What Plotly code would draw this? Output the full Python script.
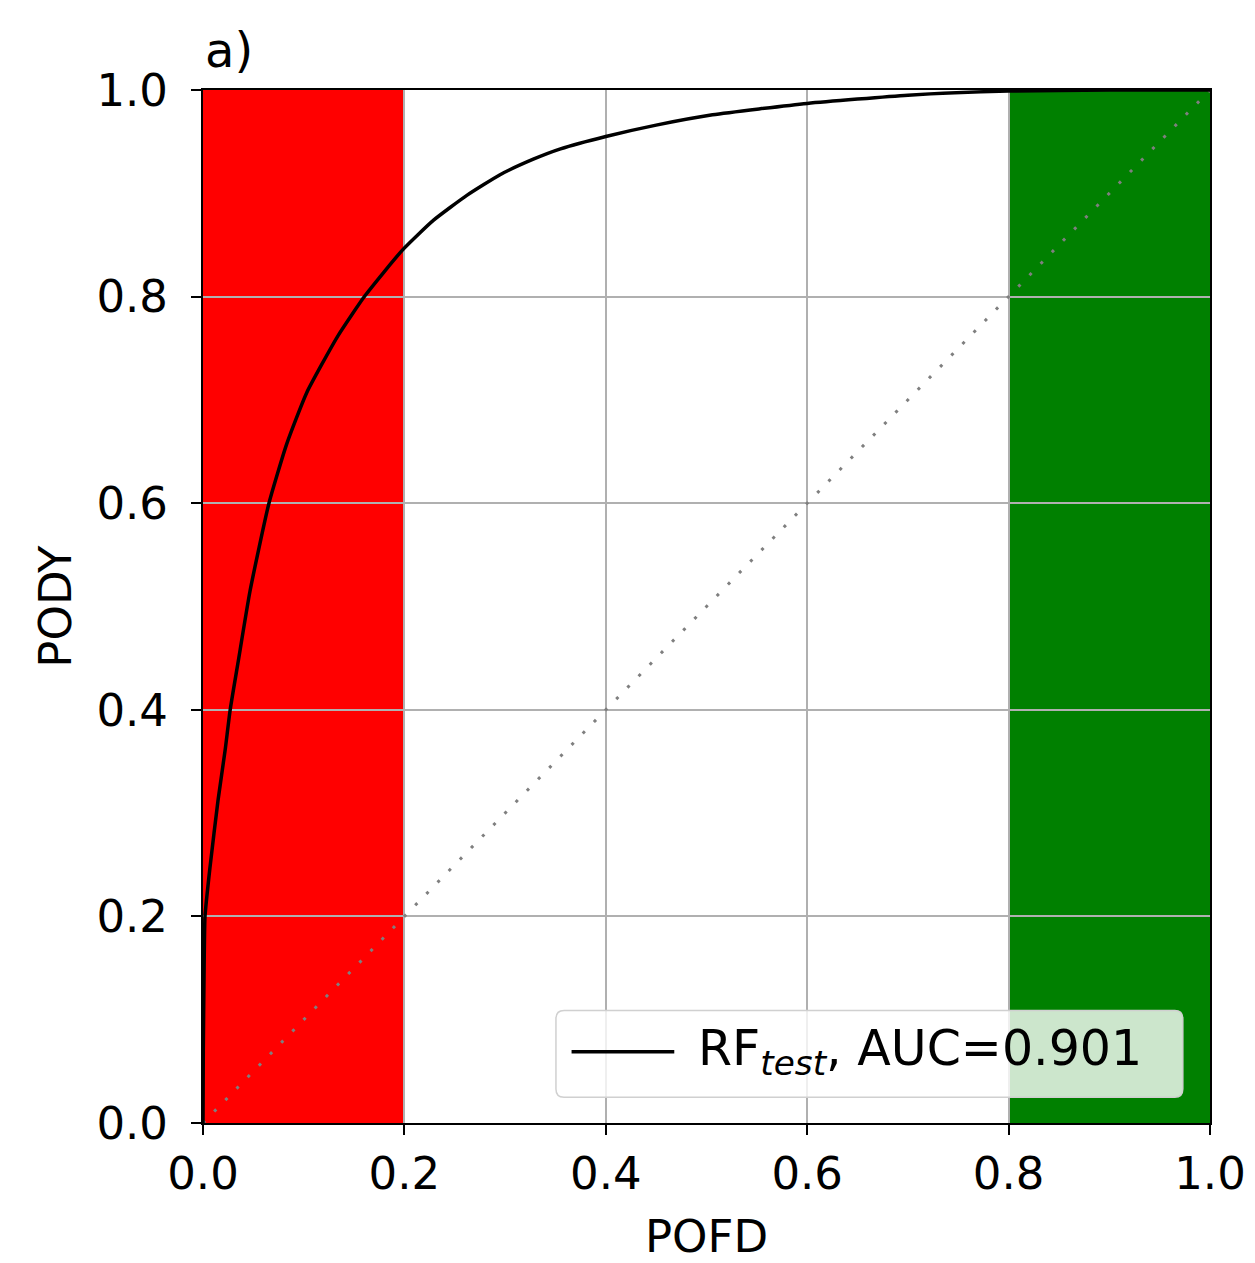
import plotly.graph_objects as go

# ROC curve values (POFD, PODY)
pofd = [0.0, 0.0003, 0.001, 0.002, 0.007, 0.015, 0.022, 0.027, 0.035, 0.0467,
        0.0655, 0.083, 0.103, 0.134, 0.161, 0.198, 0.229, 0.262, 0.295, 0.328,
        0.355, 0.4, 0.45, 0.506, 0.6, 0.7, 0.8, 0.9, 1.0]
pody = [0.0, 0.07, 0.14, 0.2, 0.248, 0.313, 0.361, 0.4, 0.447, 0.515,
        0.6, 0.657, 0.707, 0.762, 0.801, 0.845, 0.874, 0.898, 0.918, 0.933,
        0.943, 0.955, 0.966, 0.976, 0.987, 0.995, 0.999, 1.0, 1.0]
diag = [0.0, 1.0]

ticks = [0.0, 0.2, 0.4, 0.6, 0.8, 1.0]
tick_text = ["0.0", "0.2", "0.4", "0.6", "0.8", "1.0"]

red_band = [0.0, 0.2]
green_band = [0.8, 1.0]

legend_label = "RF<sub><i>test</i></sub>, AUC=0.901"
FONT = "DejaVu Sans"
FS = 45

fig = go.Figure()
fig.add_trace(go.Scatter(x=diag, y=diag, mode="lines",
                         line=dict(color="#7f7f7f", width=3, dash="3px,13px"),
                         showlegend=False, hoverinfo="skip"))
fig.add_trace(go.Scatter(x=pofd, y=pody, mode="lines",
                         line=dict(color="black", width=3.5, shape="spline", smoothing=0.5),
                         showlegend=False))

fig.add_shape(type="rect", xref="x", yref="y", x0=red_band[0], x1=red_band[1], y0=0, y1=1,
              fillcolor="#ff0000", line=dict(width=0), layer="below")
fig.add_shape(type="rect", xref="x", yref="y", x0=green_band[0], x1=green_band[1], y0=0, y1=1,
              fillcolor="#008000", line=dict(width=0), layer="below")

# legend box (manual, matplotlib style)
lx0, lx1, ly0, ly1 = 0.3505, 0.973, 0.025, 0.109
r = 0.008
path = (f"M {lx0+r},{ly0} L {lx1-r},{ly0} Q {lx1},{ly0} {lx1},{ly0+r} "
        f"L {lx1},{ly1-r} Q {lx1},{ly1} {lx1-r},{ly1} L {lx0+r},{ly1} "
        f"Q {lx0},{ly1} {lx0},{ly1-r} L {lx0},{ly0+r} Q {lx0},{ly0} {lx0+r},{ly0} Z")
fig.add_shape(type="path", xref="x", yref="y", path=path,
              fillcolor="rgba(255,255,255,0.8)", line=dict(color="#d0d0d0", width=1.5),
              layer="above")
fig.add_shape(type="line", xref="x", yref="y", x0=0.366, x1=0.468, y0=0.069, y1=0.069,
              line=dict(color="black", width=3.5), layer="above")
fig.add_annotation(x=0.49, y=0.069, xref="x", yref="y", text=legend_label,
                   showarrow=False, xanchor="left", yanchor="middle",
                   font=dict(family=FONT, size=49, color="black"))

fig.add_annotation(x=0, y=1, xref="paper", yref="paper", text="a)", showarrow=False,
                   xanchor="left", yanchor="bottom", yshift=10,
                   font=dict(family=FONT, size=48, color="black"))

axis_common = dict(range=[0, 1], tickvals=ticks, ticktext=tick_text,
                   showgrid=True, gridcolor="#b0b0b0", gridwidth=2,
                   showline=True, linecolor="black", linewidth=2, mirror=True,
                   ticks="outside", ticklen=10, tickwidth=2, tickcolor="black",
                   zeroline=False, tickfont=dict(family=FONT, size=FS, color="black"))

fig.update_xaxes(**axis_common,
                 title=dict(text="POFD", font=dict(family=FONT, size=FS, color="black"), standoff=22))
fig.update_yaxes(**axis_common, ticklabelstandoff=14,
                 title=dict(text="PODY", font=dict(family=FONT, size=FS, color="black"), standoff=11))

# page body has an 8px margin, so shift the figure to land the plot area where the reference has it
fig.update_layout(width=1247, height=1255, plot_bgcolor="white", paper_bgcolor="white",
                  margin=dict(l=195, r=45, t=82, b=140, autoexpand=False),
                  showlegend=False)

fig.write_html("out.html")
